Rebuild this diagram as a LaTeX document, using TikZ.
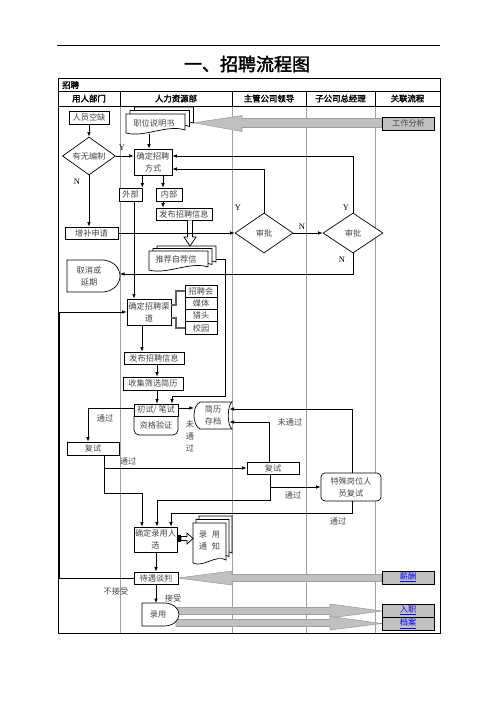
\documentclass[tikz,border=0pt]{standalone}
\usepackage{fontspec}
\setmainfont{Noto Sans CJK SC}
\newfontfamily\lat{Liberation Serif}
\newfontfamily\cjkb[FakeBold=2]{Noto Sans CJK SC}
\usetikzlibrary{shapes.geometric,arrows.meta}
\definecolor{txt}{gray}{0.28}
\definecolor{gfill}{HTML}{C0C0C0}
\definecolor{gline}{HTML}{A0A0A0}
\definecolor{colline}{HTML}{A0A0A0}
\definecolor{brk}{HTML}{606060}
\newcommand{\myfs}{\fontsize{8.2}{12}\selectfont}
\newcommand{\hdfs}{\cjkb\fontsize{8.4}{10}\selectfont}
\tikzset{
 tb/.style={draw=black, line width=0.7pt, fill=white, text=txt, font=\myfs, align=center, inner sep=0pt},
 arr/.style={draw=black, line width=0.7pt, -{Latex[length=4.5pt,width=3.6pt]}},
 ln/.style={draw=black, line width=0.7pt},
 lbl/.style={text=txt, font=\myfs, inner sep=0pt, align=center},
 yn/.style={font=\lat\fontsize{8.5}{9}\selectfont, inner sep=0pt},
 dia/.style={diamond, draw=black, line width=0.7pt, fill=white, text=txt, font=\myfs, inner sep=0pt, shape aspect=1.4},
 docst/.style={draw=black, line width=0.7pt, fill=white},
 garr/.style={fill=gfill, draw=gline, line width=0.6pt},
 gbox/.style={draw=black, line width=0.8pt, fill=gfill, font=\myfs, inner sep=0pt, minimum width=52, minimum height=13},
 hd/.style={font=\hdfs, inner sep=0pt},
}
% document shape with wavy bottom: x1 y1 x2 y2
\newcommand{\docshape}[4]{\path[docst] (#1,#2) -- (#3,#2) -- (#3,{#4-3}) .. controls ({#3-0.3*(#3-#1)},{#4-9}) and ({#1+0.3*(#3-#1)},{#4+5}) .. (#1,#4) -- cycle;}
\begin{document}
\begin{tikzpicture}[x=1pt,y=-1pt]
\useasboundingbox (0,0) rectangle (496,702);
% page header
\draw[line width=0.8pt] (57,45) -- (440,45);
\node[font=\cjkb\fontsize{18}{20}\selectfont, inner sep=0pt] (title) at (247,64) {一、招聘流程图};
% table
\foreach \cx in {120,232,306,375}{
  \draw[colline, line width=0.6pt] (\cx,106) -- (\cx,633);
  \draw[line width=0.7pt] (\cx,91) -- (\cx,106);
}
\draw[line width=0.7pt] (58,91) -- (440,91);
\draw[line width=0.7pt] (58,106) -- (440,106);
\draw[line width=1pt] (58,78) rectangle (440,633);
\node[hd, anchor=west] (zphd) at (62,85) {招聘};
\node[hd] (h1) at (89,98.5) {用人部门};
\node[hd] (h2) at (176,98.5) {人力资源部};
\node[hd] (h3) at (269,98.5) {主管公司领导};
\node[hd] (h4) at (340.5,98.5) {子公司总经理};
\node[hd] (h5) at (407.5,98.5) {关联流程};

% gray arrows (related processes)
\path[garr] (382,118.5) -- (242,118.5) -- (242,115.5) -- (194,122.8) -- (242,131.5) -- (242,127.5) -- (382,127.5) -- cycle;
\path[garr] (382,574.5) -- (232,574.5) -- (232,571) -- (178,578) -- (232,585) -- (232,581.5) -- (382,581.5) -- cycle;
\path[garr] (176,607.5) -- (330,607.5) -- (330,604) -- (382,611) -- (330,618) -- (330,614.5) -- (176,614.5) -- cycle;
\path[garr] (176,619.5) -- (330,619.5) -- (330,616.5) -- (382,623.5) -- (330,630) -- (330,626.5) -- (176,626.5) -- cycle;
\node[gbox, text=txt] (gzfx) at (408.5,123.5) {工作分析};
\node[gbox] (xc) at (408,577.5) {\color{blue}\underline{薪酬}};
\node[gbox] (rz) at (408,610.5) {\color{blue}\underline{入职}};
\node[gbox] (da) at (408,623.5) {\color{blue}\underline{档案}};

% --- user department column
\node[tb, minimum width=40, minimum height=13] (ryqq) at (89,117.5) {人员空缺};
\node[dia, minimum width=53, minimum height=38] (ywbz) at (89,156) {有无编制};
\node[tb, minimum width=53, minimum height=12] (zbsq) at (91.5,233) {增补申请};
\path[docst] (67,260) -- (102,260) .. controls (112,260) and (120,267) .. (120,276) .. controls (120,285) and (112,292) .. (102,292) -- (67,292) -- cycle;
\node[lbl] (qxyq) at (89,276) {取消或\\延期};
\node[tb, minimum width=52, minimum height=13] (fs1) at (93,448.5) {复试};

% --- HR column
\docshape{134.5}{107}{193.5}{126}
\docshape{130}{110.5}{189.5}{129.5}
\docshape{126}{114}{185}{133}
\node[lbl] (zwsm) at (154,123) {职位说明书};
\node[tb, minimum width=38, minimum height=26] (qdzp) at (153,162) {确定招聘\\方式};
\node[tb, minimum width=23, minimum height=13] (wb) at (130.5,194.5) {外部};
\node[tb, minimum width=26, minimum height=13] (nb) at (169,194.5) {内部};
\node[tb, minimum width=56, minimum height=12] (fbxx1) at (184,214) {发布招聘信息};
\docshape{157}{246}{216}{265}
\docshape{153}{248.5}{212}{267.5}
\docshape{149}{251}{208}{270}
\node[lbl] (tjzj) at (176,259) {推荐自荐信};
\node[tb, minimum width=44, minimum height=26] (qdqd) at (149,312) {确定招聘渠\\道};
\node[tb, minimum width=32, minimum height=12.25] (zph) at (201,291.1) {招聘会};
\node[tb, minimum width=32, minimum height=12.25] (mt) at (201,303.4) {媒体};
\node[tb, minimum width=32, minimum height=12.25] (lt) at (201,315.6) {猎头};
\node[tb, minimum width=32, minimum height=12.25] (xy) at (201,327.9) {校园};
\draw[brk, line width=1.3pt] (qdqd.east |- 0,305) -- (176,305) |- (zph.west);
\draw[brk, line width=1.3pt] (qdqd.east |- 0,318) -- (176,318) |- (xy.west);
\node[tb, minimum width=60, minimum height=12] (fbxx2) at (154,358) {发布招聘信息};
\node[tb, minimum width=60, minimum height=13] (sjsx) at (153,383.5) {收集筛选简历};
\draw[line width=0.7pt, fill=white, rounded corners=5pt] (134,416) -- (134,435) -- (178,435) -- (178,416);
\node[lbl] (zgyz) at (156,425.5) {资格验证};
\node[tb, minimum width=44, minimum height=12] (cs) at (156,410) {初试/ 笔试};
\path[docst] (200,402) -- (232,402) .. controls (227,406) and (227,425) .. (232,429) -- (200,429) .. controls (192,425) and (192,406) .. (200,402) -- cycle;
\node[lbl, minimum width=38, minimum height=27] (jlcd) at (213,415.5) {简历\\存档};
\node[tb, minimum width=43, minimum height=25] (qdly) at (155.5,539.5) {确定录用人\\选};
\docshape{199}{516}{232}{556}
\docshape{196}{519.5}{229}{559.5}
\docshape{193}{523}{226}{563}
\node[lbl] (lytz) at (209.5,541) {录\hspace{0.6em}用\\通\hspace{0.6em}知};
\node[tb, minimum width=44, minimum height=12] (dytp) at (156,578) {待遇谈判};
\path[docst] (142,603) -- (164,603) .. controls (172.5,603) and (179,608) .. (179,614.5) .. controls (179,621) and (172.5,626) .. (164,626) -- (142,626) -- cycle;
\node[lbl] (ly) at (158,614.5) {录用};

% --- leaders columns
\node[dia, minimum width=58, minimum height=40] (sp1) at (264,233) {审批};
\node[dia, minimum width=60, minimum height=40] (sp2) at (353,233) {审批};
\node[tb, minimum width=52, minimum height=12] (fs2) at (273,468) {复试};
\node[tb, rounded corners=4pt, minimum width=60, minimum height=28] (tsgw) at (351,487) {特殊岗位人\\员复试};

% --- hollow block arrows
\draw[line width=0.7pt, fill=white] (187.5,220.4) -- (187.5,237) -- (184,237) -- (190,246) -- (196,237) -- (192.5,237) -- (192.5,220.4);
\fill (177,535) rectangle (181,542);
\draw[line width=0.7pt, fill=white] (181,536.5) -- (187,536.5) -- (187,533) -- (193,538.5) -- (187,544) -- (187,540.5) -- (181,540.5) -- cycle;

% --- connectors
\draw[arr] (ryqq) -- (ywbz);
\draw[arr] (ywbz.east) -- (ywbz.east -| qdzp.west);
\node[yn] (ly1) at (122,148) {Y};
\draw[arr] (ywbz.south) -- (ywbz.south |- zbsq.north);
\node[yn] (ln1) at (77,182) {N};
\draw[arr] (zwsm.south -| 149,0) ++(0,7) -- (qdzp.north -| 149,0);
\draw[arr] (qdzp.south -| wb.east) -- (wb.north -| wb.east);
\draw[arr] (qdzp.south -| 163,0) -- (nb.north -| 163,0);
\draw[arr] (nb.south -| 163,0) -- (fbxx1.north -| 163,0);
\draw[arr] (wb.south -| 134,0) -- (qdqd.north -| 134,0);
\draw[arr] (zbsq.east) -- (sp1.west);
\draw[arr] (sp1.east) -- (sp2.west);
\node[yn] (ln2) at (302,227) {N};
\draw[arr] (sp1.north) |- (qdzp.east |- 0,169);
\node[yn] (ly2) at (238,208) {Y};
\draw[arr] (sp2.north) |- (qdzp.east |- 0,156);
\node[yn] (ly3) at (346,208) {Y};
\draw[arr] (sp2.south) |- (120,274);
\node[yn] (ln3) at (342,260) {N};
\draw[arr] (216,259) -| (225,396) -| (cs.north -| 172,0);
\draw[arr] (qdqd.south -| 142,0) -- (fbxx2.north -| 142,0);
\draw[arr] (fbxx2.south -| 157,0) -- (sjsx.north -| 157,0);
\draw[arr] (sjsx.south -| 157,0) -- (cs.north -| 157,0);
\draw[arr] (cs.east |- 0,408) -- (jlcd.west |- 0,408);
\node[lbl] (wtg1) at (190,436) {未\\通\\过};
\draw[arr] (cs.west |- 0,408) -| (fs1.north -| 88,0);
\node[lbl] (tg1) at (105,418) {通过};
\draw[arr] (fs1.south -| 104,0) -- (104,493) -| (qdly.north -| 142,0);
\draw[arr] (104,468) -- (fs2.west);
\node[lbl] (tg2) at (128,461) {通过};
\draw[arr] (fs2.north -| 269,0) |- (229.5,422);
\node[lbl] (wtg2) at (290,422) {未通过};
\draw[arr] (fs2.south -| 270,0) |- (tsgw.west);
\draw[arr] (fs2.south -| 270,0) -- (270,500) -| (qdly.north -| 157,0);
\node[lbl] (tg3) at (293,495) {通过};
\draw[arr] (tsgw.north -| 352,0) |- (229.5,409);
\draw[arr] (tsgw.south -| 352,0) -- (352,513) -| (qdly.north -| 171,0);
\node[lbl] (tg4) at (338,521) {通过};
\draw[arr] (qdly.south -| 156,0) -- (dytp.north -| 156,0);
\draw[arr] (dytp.west) -| (59,312) -- (qdqd.west);
\node[lbl] (bjs) at (116,591) {不接受};
\draw[arr] (dytp.south -| 156,0) -- (156,603);
\node[lbl] (js) at (173,598) {接受};
\end{tikzpicture}
\end{document}
